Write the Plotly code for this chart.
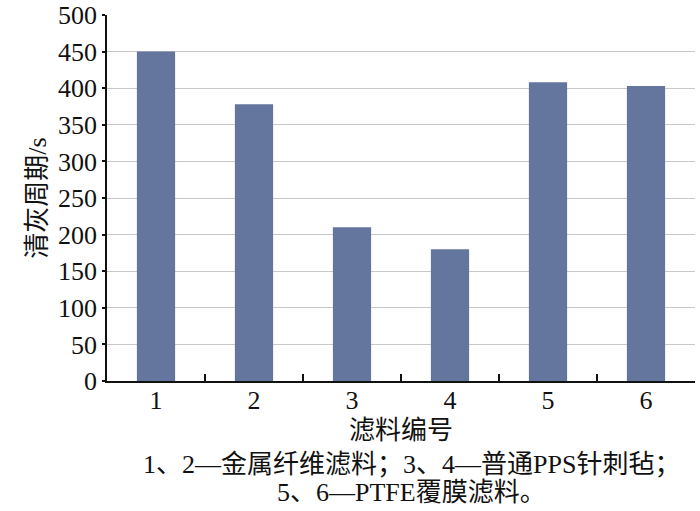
import plotly.graph_objects as go

categories = ["1", "2", "3", "4", "5", "6"]
values = [450, 378, 210, 180, 408, 403]
y_ticks = [0, 50, 100, 150, 200, 250, 300, 350, 400, 450, 500]
x_title = "滤料编号"
y_title = "清灰周期/s"
caption_lines = ["1、2—金属纤维滤料；3、4—普通PPS针刺毡；", "5、6—PTFE覆膜滤料。"]

FONT = "'Liberation Serif', 'Noto Sans CJK SC', serif"

fig = go.Figure(go.Bar(x=categories, y=values, marker=dict(color="#64759e", line=dict(width=0)), width=0.39))

fig.update_layout(
    width=700, height=511,
    margin=dict(l=107, r=5, t=15, b=130),
    plot_bgcolor="white", paper_bgcolor="white",
    font=dict(family=FONT, size=26, color="#111"),
    showlegend=False,
)
fig.update_xaxes(
    type="category", showline=True, linecolor="#111", linewidth=1.5, automargin=False,
    ticks="inside", tickson="boundaries", ticklen=7, tickcolor="#111", tickwidth=1.5,
    tickfont=dict(size=26), showgrid=False, ticklabelstandoff=-5,
    title=dict(text=x_title, font=dict(size=26), standoff=7),
)
fig.update_yaxes(
    range=[0, 500], tickvals=y_ticks, showline=True, linecolor="#111", linewidth=1.5, automargin=False,
    ticks="outside", ticklen=3, tickcolor="#111", tickwidth=1.5,
    tickfont=dict(size=26), showgrid=True, gridcolor="#c8c8c8", gridwidth=1.2,
    zeroline=False,
    title=dict(text=y_title, font=dict(size=26), standoff=4),
)
fig.add_annotation(text=caption_lines[0], xref="paper", yref="paper",
                   x=0.058, y=-0.2295, showarrow=False, font=dict(size=26), xanchor="left", yanchor="middle")
fig.add_annotation(text=caption_lines[1], xref="paper", yref="paper",
                   x=0.286, y=-0.306, showarrow=False, font=dict(size=26), xanchor="left", yanchor="middle")

fig.write_html("out.html", config={"displayModeBar": False},
               post_script="document.body.style.margin='0';")
